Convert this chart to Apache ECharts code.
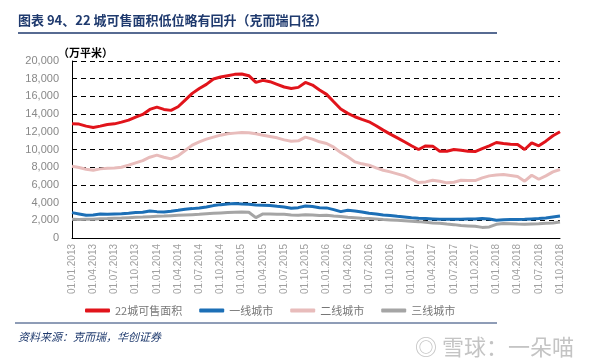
<!DOCTYPE html>
<html><head><meta charset="utf-8">
<script src="https://cdn.jsdelivr.net/npm/echarts@6/dist/echarts.min.js"></script>
<style>html,body{margin:0;padding:0;background:#fff}#c{width:608px;height:363px}</style>
</head><body><div id="c"></div>
<script>
// Monthly categories Jan 2013 - Oct 2018
const categories = [];
for (let y = 2013; y <= 2018; y++) {
  for (let m = 1; m <= 12; m++) {
    if (y === 2018 && m > 10) break;
    categories.push('01.' + (m < 10 ? '0' + m : m) + '.' + y);
  }
}
const seriesNames = ['22城可售面积', '一线城市', '二线城市', '三线城市'];
const total22 = [12900,12870,12640,12490,12640,12830,12900,13090,13320,13660,13960,14530,14790,14530,14420,14830,15580,16340,16900,17360,17960,18190,18340,18490,18530,18340,17580,17810,17660,17360,17060,16900,17020,17580,17280,16720,16230,15400,14570,14080,13700,13400,13130,12680,12190,11740,11320,10870,10420,10000,10400,10380,9800,9810,10000,9920,9810,9770,10110,10420,10790,10680,10600,10570,10000,10750,10420,10940,11550,12000];
const tier1 = [2870,2720,2570,2600,2720,2680,2720,2750,2790,2870,2910,3060,2980,2940,3020,3130,3250,3320,3400,3510,3660,3770,3850,3890,3850,3810,3740,3700,3660,3580,3510,3360,3430,3620,3550,3430,3400,3210,2980,3130,3060,2940,2790,2720,2600,2530,2450,2380,2300,2230,2190,2150,2110,2110,2110,2110,2150,2150,2190,2150,2000,2050,2080,2100,2110,2150,2190,2260,2380,2490];
const tier2 = [8110,7960,7770,7660,7810,7890,7920,8000,8230,8490,8750,9130,9360,9130,8940,9280,9890,10490,10870,11170,11400,11620,11770,11850,11920,11890,11770,11620,11470,11320,11090,10940,10980,11400,11170,10870,10680,10260,9660,9170,8600,8380,8230,7920,7660,7470,7250,7020,6640,6260,6340,6530,6420,6230,6300,6530,6490,6490,6790,7020,7130,7170,7060,6940,6420,7090,6640,7020,7470,7740];
const tier3 = [2110,2100,2110,2120,2180,2200,2230,2260,2300,2340,2370,2410,2450,2480,2520,2560,2600,2640,2680,2750,2790,2830,2870,2910,2940,2910,2300,2720,2720,2680,2680,2600,2570,2640,2600,2530,2570,2490,2420,2340,2300,2230,2190,2150,2080,2040,2000,1960,1890,1850,1770,1700,1660,1580,1510,1400,1360,1320,1200,1250,1550,1650,1620,1580,1550,1580,1600,1660,1700,1810];
const colors = ['#e1141b', '#1c6fb6', '#e8bcbb', '#a5a5a5'];
const dataList = [total22, tier1, tier2, tier3];

const chart = echarts.init(document.getElementById('c'));
chart.setOption({
  animation: false,
  grid: { left: 72, right: 48, top: 61, bottom: 125, containLabel: false },
  legend: {
    data: seriesNames, left: 80, top: 300, itemWidth: 25, itemHeight: 4, icon: 'roundRect',
    itemGap: 17, textStyle: { color: '#777', fontSize: 11, fontFamily: 'Noto Sans CJK SC' }
  },
  xAxis: {
    type: 'category', data: categories, boundaryGap: false,
    axisLine: { lineStyle: { color: '#000', width: 1 } },
    axisTick: { show: false },
    axisLabel: { rotate: 90, interval: 2, color: '#a0a0a0', fontSize: 10, fontFamily: 'Liberation Sans', margin: 6 }
  },
  yAxis: {
    type: 'value', min: 0, max: 20000, interval: 2000,
    axisLine: { show: true, lineStyle: { color: '#000', width: 1 } },
    axisTick: { show: false },
    axisLabel: { color: '#888', fontSize: 11, fontFamily: 'Liberation Sans', margin: 13,
      formatter: v => v.toLocaleString('en-US') },
    splitLine: { lineStyle: { color: '#000', type: [5, 4], width: 1 } }
  },
  series: seriesNames.map((n, i) => ({
    name: n, type: 'line', data: dataList[i], showSymbol: false, symbol: 'none',
    lineStyle: { color: colors[i], width: 3 }, itemStyle: { color: colors[i] }
  })),
  graphic: [
    { type: 'text', left: 18, top: 14, style: { text: '图表 94、22 城可售面积低位略有回升（克而瑞口径）', fill: '#1f3a6e', font: 'bold 13px "Noto Sans CJK SC"' } },
    { type: 'line', shape: { x1: 18, y1: 33, x2: 497, y2: 33 }, style: { stroke: '#1f3a6e', lineWidth: 1.5 } },
    { type: 'text', left: 58, top: 47, style: { text: '（万平米）', fill: '#000', font: 'bold 11px "Noto Sans CJK SC"' } },
    { type: 'line', shape: { x1: 15, y1: 323, x2: 497, y2: 323 }, style: { stroke: '#1f3a6e', lineWidth: 1 } },
    { type: 'text', left: 18, top: 331, style: { text: '资料来源：克而瑞，华创证券', fill: '#1f3a6e', font: 'italic 11px "Noto Sans CJK SC"' } },
    { type: 'text', left: 415, top: 336, style: { text: '◎ 雪球：一朵喵', fill: '#c4c4c4', font: '22px "Noto Sans CJK SC"' } }
  ]
});
</script></body></html>
